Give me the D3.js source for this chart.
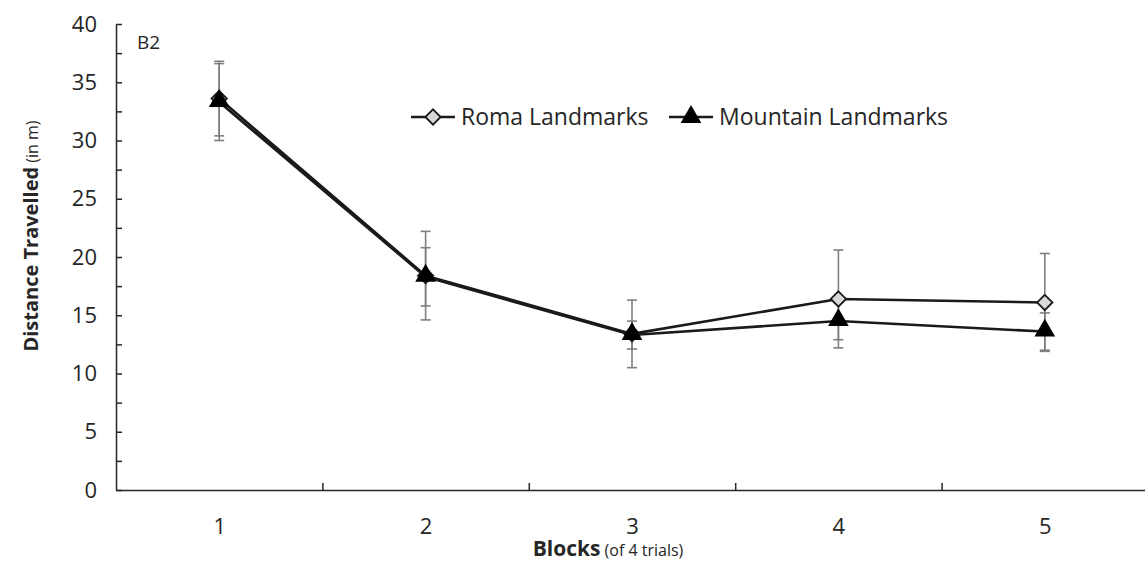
<!DOCTYPE html>
<html>
<head>
<meta charset="utf-8">
<script src="https://cdn.jsdelivr.net/npm/d3@7"></script>
<style>
  body { margin: 0; background: #fff; }
  text { font-family: "Open Sans", sans-serif; fill: #262626; }
</style>
</head>
<body>
<div id="graph"></div>
<script>
var blocks = [1, 2, 3, 4, 5];
var romaMean = [33.6, 18.4, 13.4, 16.4, 16.1];
var romaErr = [3.2, 3.8, 2.9, 4.2, 4.2];
var mountMean = [33.3, 18.3, 13.3, 14.5, 13.6];
var mountErr = [3.3, 2.5, 1.2, 1.6, 1.6];
var yTicks = [0, 5, 10, 15, 20, 25, 30, 35, 40];
var yMinor = [2.5, 7.5, 12.5, 17.5, 22.5, 27.5, 32.5, 37.5];
var seriesNames = ["Roma Landmarks", "Mountain Landmarks"];

var width = 1145, height = 562;
var svg = d3.select("#graph").append("svg")
    .attr("width", width)
    .attr("height", height);

var x = d3.scaleLinear().domain([0.5, 5.5]).range([116, 1148]);
var y = d3.scaleLinear().domain([0, 40]).range([490, 24]);

// y axis
var yAxis = d3.axisLeft(y)
    .tickValues(yTicks)
    .tickSizeInner(-6)
    .tickSizeOuter(0)
    .tickPadding(19);
var gy = svg.append("g").attr("transform", "translate(116,0)").call(yAxis);
gy.select(".domain").attr("stroke", "#262626").attr("stroke-width", 1.5);
gy.selectAll(".tick line").attr("stroke", "#262626").attr("stroke-width", 1.5);
gy.selectAll(".tick text").style("font-size", "22px").attr("fill", "#262626");

var gyMinor = svg.append("g").attr("transform", "translate(116,0)")
    .call(d3.axisLeft(y).tickValues(yMinor).tickSizeInner(-6).tickSizeOuter(0).tickFormat(""));
gyMinor.select(".domain").remove();
gyMinor.selectAll(".tick line").attr("stroke", "#262626").attr("stroke-width", 1.5);

// x axis
var gx = svg.append("g").attr("transform", "translate(0,490)")
    .call(d3.axisBottom(x).tickValues(blocks).tickFormat(d3.format("d")).tickSize(0).tickPadding(28));
gx.select(".domain").attr("stroke", "#262626").attr("stroke-width", 1.5);
gx.selectAll(".tick text").style("font-size", "22px").attr("fill", "#262626");

var gxTicks = svg.append("g").attr("transform", "translate(0,490)")
    .call(d3.axisBottom(x).tickValues([1.5, 2.5, 3.5, 4.5]).tickSizeInner(-7).tickSizeOuter(0).tickFormat(""));
gxTicks.select(".domain").remove();
gxTicks.selectAll(".tick line").attr("stroke", "#262626").attr("stroke-width", 1.5);

// titles
var yt = svg.append("text")
    .attr("transform", "translate(38,236) rotate(-90)")
    .attr("text-anchor", "middle");
yt.append("tspan").text("Distance Travelled").style("font-size", "20px").style("font-weight", "bold");
yt.append("tspan").text(" (in m)").style("font-size", "16px");

var xt = svg.append("text")
    .attr("x", 608).attr("y", 556)
    .attr("text-anchor", "middle");
xt.append("tspan").text("Blocks").style("font-size", "21px").style("font-weight", "bold");
xt.append("tspan").text(" (of 4 trials)").style("font-size", "16px");

svg.append("text").attr("x", 137).attr("y", 49)
    .style("font-size", "19px").text("B2");

function rows(means, errs) {
    return blocks.map(function(b, i) { return {b: b, m: means[i], e: errs[i]}; });
}
var roma = rows(romaMean, romaErr);
var mount = rows(mountMean, mountErr);

// error bars
function errorBars(data) {
    var g = svg.append("g").attr("stroke", "#7f7f7f").attr("stroke-width", 1.6);
    g.selectAll(".v").data(data).enter().append("line")
        .attr("x1", function(d) { return x(d.b); }).attr("x2", function(d) { return x(d.b); })
        .attr("y1", function(d) { return y(d.m + d.e); }).attr("y2", function(d) { return y(d.m - d.e); });
    [1, -1].forEach(function(s) {
        g.selectAll(".c" + s).data(data).enter().append("line")
            .attr("x1", function(d) { return x(d.b) - 5; }).attr("x2", function(d) { return x(d.b) + 5; })
            .attr("y1", function(d) { return y(d.m + s * d.e); }).attr("y2", function(d) { return y(d.m + s * d.e); });
    });
}
errorBars(roma);
errorBars(mount);

var line = d3.line().x(function(d) { return x(d.b); }).y(function(d) { return y(d.m); });
[roma, mount].forEach(function(data) {
    svg.append("path").datum(data)
        .attr("d", line)
        .attr("fill", "none")
        .attr("stroke", "#1a1a1a")
        .attr("stroke-width", 2.6);
});

var diamond = d3.symbol().type(d3.symbolDiamond2).size(150);
var triangle = d3.symbol().type(d3.symbolTriangle).size(185);

svg.append("g").selectAll("path").data(roma).enter().append("path")
    .attr("d", diamond)
    .attr("transform", function(d) { return "translate(" + x(d.b) + "," + y(d.m) + ")"; })
    .attr("fill", "#d9d9d9").attr("stroke", "#1a1a1a").attr("stroke-width", 1.8);
svg.append("g").selectAll("path").data(mount).enter().append("path")
    .attr("d", triangle)
    .attr("transform", function(d) { return "translate(" + x(d.b) + "," + (y(d.m) - 1) + ")"; })
    .attr("fill", "#000");

// legend
var legend = svg.append("g");
var items = [
    {name: seriesNames[0], x0: 411, sym: diamond, fill: "#d9d9d9", stroke: "#1a1a1a"},
    {name: seriesNames[1], x0: 669, sym: triangle, fill: "#000", stroke: "none"}
];
items.forEach(function(it) {
    legend.append("line").attr("x1", it.x0).attr("x2", it.x0 + 44)
        .attr("y1", 117).attr("y2", 117)
        .attr("stroke", "#1a1a1a").attr("stroke-width", 2.5);
    legend.append("path").attr("d", it.sym)
        .attr("transform", "translate(" + (it.x0 + 22) + ",117)")
        .attr("fill", it.fill).attr("stroke", it.stroke).attr("stroke-width", 1.8);
    legend.append("text").attr("x", it.x0 + 50).attr("y", 125)
        .style("font-size", "23px").text(it.name);
});
</script>
</body>
</html>
